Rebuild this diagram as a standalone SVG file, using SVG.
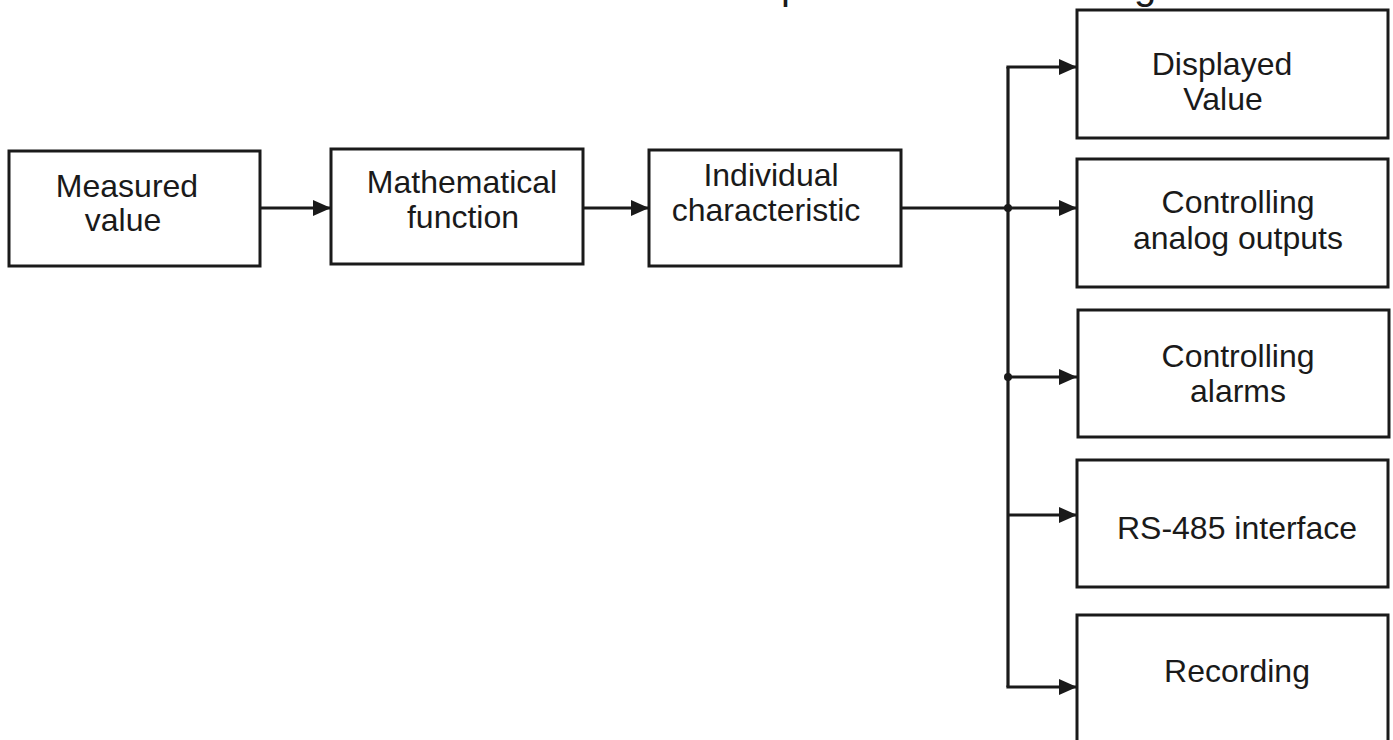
<svg xmlns="http://www.w3.org/2000/svg" width="1393" height="740" viewBox="0 0 1393 740">
  <style>
    .box { fill: #ffffff; stroke: #1a1a1a; stroke-width: 3; }
    .lbl { font-family: "Liberation Sans", Arial, sans-serif; font-size: 32px; fill: #1a1a1a; text-anchor: middle; }
    .ttl { font-family: "Liberation Sans", Arial, sans-serif; font-size: 40px; fill: #1a1a1a; }
    .wire { fill: none; stroke: #1a1a1a; stroke-width: 3.2; }
    .dot { fill: #1a1a1a; }
  </style>
  <defs>
    <marker id="arrow" markerUnits="userSpaceOnUse" markerWidth="19" markerHeight="17" refX="18" refY="8" orient="auto">
      <path d="M0,0 L18,8 L0,16 Z" fill="#1a1a1a"/>
    </marker>
  </defs>
  <rect width="1393" height="740" fill="#ffffff"/>

  <g id="title-fragment">
    <text class="ttl" x="781" y="-1">p</text>
    <text class="ttl" x="1134" y="-1">g</text>
  </g>

  <g id="connectors">
    <line class="wire" x1="260" y1="208" x2="331" y2="208" marker-end="url(#arrow)"/>
    <line class="wire" x1="583" y1="208" x2="649" y2="208" marker-end="url(#arrow)"/>
    <line class="wire" x1="901" y1="208" x2="1008" y2="208"/>
    <path class="wire" d="M1008,67 L1008,687"/>
    <line class="wire" x1="1006.4" y1="67" x2="1077" y2="67" marker-end="url(#arrow)"/>
    <line class="wire" x1="1008" y1="208" x2="1077" y2="208" marker-end="url(#arrow)"/>
    <line class="wire" x1="1008" y1="377" x2="1077" y2="377" marker-end="url(#arrow)"/>
    <line class="wire" x1="1008" y1="515" x2="1077" y2="515" marker-end="url(#arrow)"/>
    <line class="wire" x1="1006.4" y1="687" x2="1077" y2="687" marker-end="url(#arrow)"/>
    <circle class="dot" cx="1008" cy="208" r="4"/>
    <circle class="dot" cx="1008" cy="377" r="4"/>
  </g>

  <g id="measured-value">
    <rect class="box" x="9" y="151" width="251" height="115"/>
    <text class="lbl" x="127" y="197">Measured</text>
    <text class="lbl" x="123" y="231">value</text>
  </g>

  <g id="mathematical-function">
    <rect class="box" x="331" y="149" width="252" height="115"/>
    <text class="lbl" x="462" y="193">Mathematical</text>
    <text class="lbl" x="463" y="228">function</text>
  </g>

  <g id="individual-characteristic">
    <rect class="box" x="649" y="150" width="252" height="116"/>
    <text class="lbl" x="771" y="186">Individual</text>
    <text class="lbl" x="766" y="221">characteristic</text>
  </g>

  <g id="displayed-value">
    <rect class="box" x="1077" y="10" width="311" height="128"/>
    <text class="lbl" x="1222" y="75">Displayed</text>
    <text class="lbl" x="1223" y="110">Value</text>
  </g>

  <g id="controlling-analog-outputs">
    <rect class="box" x="1077" y="159" width="311" height="128"/>
    <text class="lbl" x="1238" y="213">Controlling</text>
    <text class="lbl" x="1238" y="249">analog outputs</text>
  </g>

  <g id="controlling-alarms">
    <rect class="box" x="1078" y="310" width="311" height="127"/>
    <text class="lbl" x="1238" y="367">Controlling</text>
    <text class="lbl" x="1238" y="402">alarms</text>
  </g>

  <g id="rs485-interface">
    <rect class="box" x="1077" y="460" width="311" height="127"/>
    <text class="lbl" x="1237" y="539">RS-485 interface</text>
  </g>

  <g id="recording">
    <rect class="box" x="1077" y="615" width="311" height="140"/>
    <text class="lbl" x="1237" y="682">Recording</text>
  </g>
</svg>
